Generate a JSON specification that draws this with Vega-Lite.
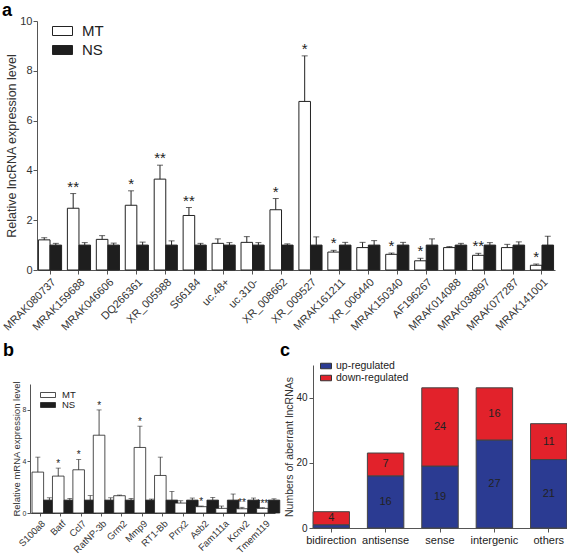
{
"$schema": "https://vega.github.io/schema/vega-lite/v6.json",
"padding": {"left": 0, "top": 2, "right": 0, "bottom": 0},
"background": "white",
"resolve": {"scale": {"fill": "independent", "color": "independent"}, "legend": {"fill": "independent", "color": "independent"}},
"config": {
 "font": "Liberation Sans",
 "view": {"stroke": null},
 "axis": {"domainColor": "#555", "tickColor": "#555", "labelColor": "#333", "titleColor": "#333", "grid": false, "titleFontWeight": "normal", "labelFont": "Liberation Sans", "titleFont": "Liberation Sans"},
 "title": {"anchor": "start", "fontSize": 18, "fontWeight": "bold", "color": "#000", "font": "Liberation Sans"},
 "legend": {"labelFont": "Liberation Sans", "padding": 0}
},
"datasets": {
 "lnc": [
  {"gene": "MRAK080737", "g": "MT", "v": 1.21, "hi": 1.30, "sig": ""},
  {"gene": "MRAK080737", "g": "NS", "v": 1, "hi": 1.07, "sig": ""},
  {"gene": "MRAK159688", "g": "MT", "v": 2.48, "hi": 3.07, "sig": "**"},
  {"gene": "MRAK159688", "g": "NS", "v": 1, "hi": 1.10, "sig": ""},
  {"gene": "MRAK046606", "g": "MT", "v": 1.23, "hi": 1.38, "sig": ""},
  {"gene": "MRAK046606", "g": "NS", "v": 1, "hi": 1.08, "sig": ""},
  {"gene": "DQ266361", "g": "MT", "v": 2.60, "hi": 3.18, "sig": "*"},
  {"gene": "DQ266361", "g": "NS", "v": 1, "hi": 1.12, "sig": ""},
  {"gene": "XR_005988", "g": "MT", "v": 3.65, "hi": 4.21, "sig": "**"},
  {"gene": "XR_005988", "g": "NS", "v": 1, "hi": 1.17, "sig": ""},
  {"gene": "S66184", "g": "MT", "v": 2.19, "hi": 2.51, "sig": "**"},
  {"gene": "S66184", "g": "NS", "v": 1, "hi": 1.07, "sig": ""},
  {"gene": "uc.48+", "g": "MT", "v": 1.07, "hi": 1.25, "sig": ""},
  {"gene": "uc.48+", "g": "NS", "v": 1, "hi": 1.10, "sig": ""},
  {"gene": "uc.310-", "g": "MT", "v": 1.11, "hi": 1.34, "sig": ""},
  {"gene": "uc.310-", "g": "NS", "v": 1, "hi": 1.10, "sig": ""},
  {"gene": "XR_008662", "g": "MT", "v": 2.42, "hi": 2.87, "sig": "*"},
  {"gene": "XR_008662", "g": "NS", "v": 1, "hi": 1.05, "sig": ""},
  {"gene": "XR_009527", "g": "MT", "v": 6.77, "hi": 8.60, "sig": "*"},
  {"gene": "XR_009527", "g": "NS", "v": 1, "hi": 1.33, "sig": ""},
  {"gene": "MRAK161211", "g": "MT", "v": 0.72, "hi": 0.79, "sig": "*"},
  {"gene": "MRAK161211", "g": "NS", "v": 1, "hi": 1.11, "sig": ""},
  {"gene": "XR_006440", "g": "MT", "v": 0.90, "hi": 1.11, "sig": ""},
  {"gene": "XR_006440", "g": "NS", "v": 1, "hi": 1.18, "sig": ""},
  {"gene": "MRAK150340", "g": "MT", "v": 0.63, "hi": 0.68, "sig": "*"},
  {"gene": "MRAK150340", "g": "NS", "v": 1, "hi": 1.11, "sig": ""},
  {"gene": "AF196267", "g": "MT", "v": 0.37, "hi": 0.47, "sig": "*"},
  {"gene": "AF196267", "g": "NS", "v": 1, "hi": 1.25, "sig": ""},
  {"gene": "MRAK014088", "g": "MT", "v": 0.90, "hi": 0.94, "sig": ""},
  {"gene": "MRAK014088", "g": "NS", "v": 1, "hi": 1.07, "sig": ""},
  {"gene": "MRAK038897", "g": "MT", "v": 0.59, "hi": 0.67, "sig": "**"},
  {"gene": "MRAK038897", "g": "NS", "v": 1, "hi": 1.10, "sig": ""},
  {"gene": "MRAK077287", "g": "MT", "v": 0.90, "hi": 1.03, "sig": ""},
  {"gene": "MRAK077287", "g": "NS", "v": 1, "hi": 1.13, "sig": ""},
  {"gene": "MRAK141001", "g": "MT", "v": 0.19, "hi": 0.24, "sig": "*"},
  {"gene": "MRAK141001", "g": "NS", "v": 1, "hi": 1.36, "sig": ""}
 ],
 "mrna": [
  {"gene": "S100a8", "g": "MT", "v": 3.17, "hi": 4.33, "sig": ""},
  {"gene": "S100a8", "g": "NS", "v": 1, "hi": 1.18, "sig": ""},
  {"gene": "Batf", "g": "MT", "v": 2.86, "hi": 3.48, "sig": "*"},
  {"gene": "Batf", "g": "NS", "v": 1, "hi": 1.13, "sig": ""},
  {"gene": "Ccl7", "g": "MT", "v": 3.35, "hi": 4.15, "sig": "*"},
  {"gene": "Ccl7", "g": "NS", "v": 1, "hi": 1.35, "sig": ""},
  {"gene": "RatNP-3b", "g": "MT", "v": 6.03, "hi": 7.99, "sig": "*"},
  {"gene": "RatNP-3b", "g": "NS", "v": 1, "hi": 1.18, "sig": ""},
  {"gene": "Grm2", "g": "MT", "v": 1.34, "hi": 1.39, "sig": ""},
  {"gene": "Grm2", "g": "NS", "v": 1, "hi": 1.13, "sig": ""},
  {"gene": "Mmp9", "g": "MT", "v": 5.08, "hi": 6.73, "sig": "*"},
  {"gene": "Mmp9", "g": "NS", "v": 1, "hi": 1.08, "sig": ""},
  {"gene": "RT1-Bb", "g": "MT", "v": 2.91, "hi": 4.33, "sig": ""},
  {"gene": "RT1-Bb", "g": "NS", "v": 1, "hi": 1.67, "sig": ""},
  {"gene": "Prrx2", "g": "MT", "v": 0.77, "hi": 0.95, "sig": ""},
  {"gene": "Prrx2", "g": "NS", "v": 1, "hi": 1.16, "sig": ""},
  {"gene": "Asb2", "g": "MT", "v": 0.49, "hi": 0.54, "sig": "*"},
  {"gene": "Asb2", "g": "NS", "v": 1, "hi": 1.21, "sig": ""},
  {"gene": "Fam111a", "g": "MT", "v": 0.36, "hi": 0.54, "sig": ""},
  {"gene": "Fam111a", "g": "NS", "v": 1, "hi": 1.47, "sig": ""},
  {"gene": "Kcnv2", "g": "MT", "v": 0.33, "hi": 0.44, "sig": "**"},
  {"gene": "Kcnv2", "g": "NS", "v": 1, "hi": 1.16, "sig": ""},
  {"gene": "Tmem119", "g": "MT", "v": 0.36, "hi": 0.41, "sig": "***"},
  {"gene": "Tmem119", "g": "NS", "v": 1, "hi": 1.10, "sig": ""}
 ],
 "cls": [
  {"type": "bidirection", "dir": "up-regulated", "n": 1},
  {"type": "bidirection", "dir": "down-regulated", "n": 4},
  {"type": "antisense", "dir": "up-regulated", "n": 16},
  {"type": "antisense", "dir": "down-regulated", "n": 7},
  {"type": "sense", "dir": "up-regulated", "n": 19},
  {"type": "sense", "dir": "down-regulated", "n": 24},
  {"type": "intergenic", "dir": "up-regulated", "n": 27},
  {"type": "intergenic", "dir": "down-regulated", "n": 16},
  {"type": "others", "dir": "up-regulated", "n": 21},
  {"type": "others", "dir": "down-regulated", "n": 11}
 ],
 "none": []
},
"spacing": 9,
"vconcat": [
 {"spacing": 0,
  "resolve": {"scale": {"fill": "independent", "color": "independent"}, "legend": {"fill": "independent", "color": "independent"}},
  "hconcat": [
  {"width": 1, "height": 1, "data": {"name": "none"}, "mark": {"type": "point", "opacity": 0}, "encoding": {}},
  {
   "width": 518, "height": 249,
   "title": {"text": "a", "offset": -5, "dx": 1},
   "data": {"name": "lnc"},
   "encoding": {
    "x": {"field": "gene", "type": "nominal", "title": null,
          "sort": ["MRAK080737","MRAK159688","MRAK046606","DQ266361","XR_005988","S66184","uc.48+","uc.310-","XR_008662","XR_009527","MRAK161211","XR_006440","MRAK150340","AF196267","MRAK014088","MRAK038897","MRAK077287","MRAK141001"],
          "scale": {"paddingInner": 0.2, "paddingOuter": 0.05},
          "axis": {"labelAngle": -45, "labelFontSize": 11, "tickSize": 4, "labelPadding": 2}},
    "xOffset": {"field": "g", "type": "nominal", "sort": ["MT", "NS"], "scale": {"paddingInner": 0, "paddingOuter": 0}}
   },
   "layer": [
    {"mark": {"type": "bar", "stroke": "#222", "strokeWidth": 1},
     "encoding": {
      "y": {"field": "v", "type": "quantitative", "title": "Relative lncRNA expression level", "scale": {"domain": [0, 10]},
            "axis": {"values": [0, 2, 4, 6, 8, 10], "labelFontSize": 11, "titleFontSize": 12.5, "tickSize": 4, "labelPadding": 1, "titlePadding": 1}},
      "fill": {"field": "g", "type": "nominal", "scale": {"domain": ["MT", "NS"], "range": ["#ffffff", "#1e1e1e"]},
               "legend": {"orient": "none", "legendX": 15, "legendY": -0.5, "title": null, "symbolType": "M-1,-0.45L1,-0.45L1,0.45L-1,0.45Z", "symbolSize": 400, "symbolStrokeColor": "#222", "symbolStrokeWidth": 1, "labelFontSize": 15, "labelColor": "#222", "labelOffset": 9, "rowPadding": -0.5}}
     }},
    {"mark": {"type": "rule", "color": "#222"},
     "encoding": {"y": {"field": "v", "type": "quantitative", "title": "Relative lncRNA expression level"}, "y2": {"field": "hi"}}},
    {"mark": {"type": "tick", "color": "#222", "thickness": 1, "size": 6, "orient": "horizontal"},
     "encoding": {"y": {"field": "hi", "type": "quantitative", "title": "Relative lncRNA expression level"}}},
    {"transform": [{"filter": "datum.sig != ''"}],
     "mark": {"type": "text", "baseline": "bottom", "dy": 1, "fontSize": 15, "fill": "#222"},
     "encoding": {"y": {"field": "hi", "type": "quantitative", "title": "Relative lncRNA expression level"}, "text": {"field": "sig"}}}
   ]
  }
 ]},
 {"spacing": -2,
  "resolve": {"scale": {"fill": "independent", "color": "independent"}, "legend": {"fill": "independent", "color": "independent"}},
  "hconcat": [
  {"spacing": -3,
   "resolve": {"scale": {"fill": "independent", "color": "independent"}, "legend": {"fill": "independent", "color": "independent"}},
   "hconcat": [
   {"width": 1, "height": 1, "title": {"text": "b", "offset": 5, "dx": 3}, "data": {"name": "none"}, "mark": {"type": "point", "opacity": 0}, "encoding": {}},
   {"spacing": 14,
    "resolve": {"scale": {"fill": "independent", "color": "independent"}, "legend": {"fill": "independent", "color": "independent"}},
    "vconcat": [
    {"width": 1, "height": 1, "data": {"name": "none"}, "mark": {"type": "point", "opacity": 0}, "encoding": {}},
    {
     "width": 245, "height": 129,
     "data": {"name": "mrna"},
     "encoding": {
      "x": {"field": "gene", "type": "nominal", "title": null,
            "sort": ["S100a8","Batf","Ccl7","RatNP-3b","Grm2","Mmp9","RT1-Bb","Prrx2","Asb2","Fam111a","Kcnv2","Tmem119"],
            "scale": {"paddingInner": 0.2, "paddingOuter": 0.1},
            "axis": {"labelAngle": -45, "labelFontSize": 9.5, "tickSize": 3, "labelPadding": 2}},
      "xOffset": {"field": "g", "type": "nominal", "sort": ["MT", "NS"], "scale": {"paddingInner": 0, "paddingOuter": 0}}
     },
     "layer": [
      {"mark": {"type": "bar", "stroke": "#222", "strokeWidth": 0.8},
       "encoding": {
        "y": {"field": "v", "type": "quantitative", "title": "Relative mRNA expression level", "scale": {"domain": [0, 10]},
              "axis": {"values": [0, 2, 4, 6, 8, 10], "labelFontSize": 7, "titleFontSize": 9.5, "tickSize": 3, "labelPadding": 1, "titlePadding": 1}},
        "fill": {"field": "g", "type": "nominal", "scale": {"domain": ["MT", "NS"], "range": ["#ffffff", "#1e1e1e"]},
                 "legend": {"orient": "none", "legendX": 12.5, "legendY": 5.5, "title": null, "symbolType": "M-1.5,-0.5L1.5,-0.5L1.5,0.5L-1.5,0.5Z", "symbolSize": 100, "symbolStrokeColor": "#222", "symbolStrokeWidth": 0.8, "labelFontSize": 9.5, "labelColor": "#222", "labelOffset": 8.5, "rowPadding": -3}}
       }},
      {"mark": {"type": "rule", "color": "#222", "strokeWidth": 0.8},
       "encoding": {"y": {"field": "v", "type": "quantitative", "title": "Relative mRNA expression level"}, "y2": {"field": "hi"}}},
      {"mark": {"type": "tick", "color": "#222", "thickness": 0.8, "size": 5, "orient": "horizontal"},
       "encoding": {"y": {"field": "hi", "type": "quantitative", "title": "Relative mRNA expression level"}}},
      {"transform": [{"filter": "datum.sig != ''"}],
       "mark": {"type": "text", "baseline": "bottom", "dy": 1, "fontSize": 10, "fill": "#222"},
       "encoding": {"y": {"field": "hi", "type": "quantitative", "title": "Relative mRNA expression level"}, "text": {"field": "sig"}}}
     ]
    }
   ]}
  ]},
  {
   "width": 254, "height": 163,
   "title": {"text": "c", "offset": 0, "dx": -5},
   "data": {"name": "cls"},
   "encoding": {
    "x": {"field": "type", "type": "nominal", "title": null,
          "sort": ["bidirection", "antisense", "sense", "intergenic", "others"],
          "scale": {"paddingInner": 0.33, "paddingOuter": 0.0},
          "axis": {"labelAngle": 0, "labelFontSize": 11, "tickSize": 4, "labelPadding": 2, "labelColor": "#222"}}
   },
   "layer": [
    {"mark": {"type": "bar", "stroke": "#444", "strokeWidth": 1},
     "encoding": {
      "y": {"field": "n", "type": "quantitative", "stack": "zero", "title": "Numbers of aberrant lncRNAs", "scale": {"domain": [0, 50]},
            "axis": {"values": [0, 10, 20, 30, 40, 50], "labelFontSize": 10, "titleFontSize": 10.5, "tickSize": 4, "labelPadding": 2, "titlePadding": 1, "labelColor": "#222"}},
      "order": {"field": "dir", "sort": "descending"},
      "color": {"field": "dir", "type": "nominal", "scale": {"domain": ["up-regulated", "down-regulated"], "range": ["#2b3b92", "#e2222b"]},
               "legend": {"orient": "none", "legendX": 7, "legendY": -5, "title": null, "symbolType": "M-1,-0.5L1,-0.5L1,0.5L-1,0.5Z", "symbolSize": 121, "symbolStrokeColor": "#333", "symbolStrokeWidth": 1, "symbolOpacity": 1, "labelFontSize": 10.5, "labelColor": "#222", "labelOffset": 4, "rowPadding": 0}}
     }},
    {"transform": [
      {"stack": "n", "groupby": ["type"], "sort": [{"field": "dir", "order": "descending"}], "as": ["s0", "s1"]},
      {"filter": "datum.n > 1"},
      {"fold": ["s0", "s1"], "as": ["k", "pos"]},
      {"aggregate": [{"op": "mean", "field": "pos", "as": "mid"}], "groupby": ["type", "dir", "n"]}
     ],
     "mark": {"type": "text", "fontSize": 11, "fill": "#222", "baseline": "middle"},
     "encoding": {"y": {"field": "mid", "type": "quantitative", "title": "Numbers of aberrant lncRNAs"}, "text": {"field": "n"}}}
   ]
  }
 ]}
]
}
